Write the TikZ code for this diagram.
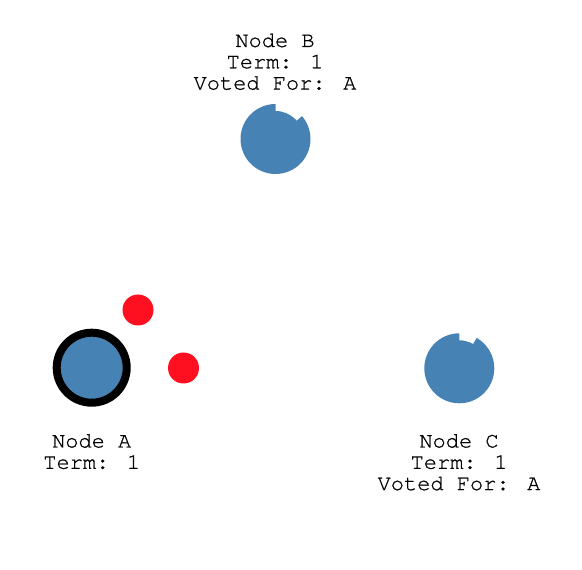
\documentclass[tikz,border=0pt]{standalone}
\usepackage{fontspec}
\newfontfamily\lblfont[FakeBold=0.8]{TeX Gyre Cursor}
\definecolor{steel}{RGB}{70,130,180}
\definecolor{msgred}{RGB}{255,16,32}
\tikzset{
  lbl/.style={anchor=base,inner sep=0pt,font=\lblfont\fontsize{22bp}{21.3bp}\selectfont},
  msg/.style={circle,fill=msgred,draw=none,minimum size=31bp,inner sep=0pt},
}
\begin{document}
\begin{tikzpicture}[x=1bp,y=1bp]
\useasboundingbox (0,0) rectangle (582,570);
% Node B
\coordinate (B) at (275.5,431);
\fill[steel] (B) circle[radius=28];
\fill[steel] (B) -- ++(90:35) arc[start angle=90,end angle=400.8,radius=35] -- cycle;
\node[lbl] (bname) at (275,523) {Node B};
\node[lbl] (bterm) at (275,501.7) {Term: 1};
\node[lbl] (bvote) at (275,480.4) {Voted For: A};
% Node C
\coordinate (C) at (459.3,201.7);
\fill[steel] (C) circle[radius=28];
\fill[steel] (C) -- ++(90:35) arc[start angle=90,end angle=420.3,radius=35] -- cycle;
\node[lbl] (cname) at (459,122.5) {Node C};
\node[lbl] (cterm) at (459,101.2) {Term: 1};
\node[lbl] (cvote) at (459,79.9) {Voted For: A};
% Node A (leader)
\coordinate (A) at (91.7,202.3);
\draw[fill=steel,draw=black,line width=8bp] (A) circle[radius=35];
\node[lbl] (aname) at (91.7,122.5) {Node A};
\node[lbl] (aterm) at (91.7,101.2) {Term: 1};
% messages
\node[msg] (m1) at (138,260) {};
\node[msg] (m2) at (183.5,202) {};
\end{tikzpicture}
\end{document}
